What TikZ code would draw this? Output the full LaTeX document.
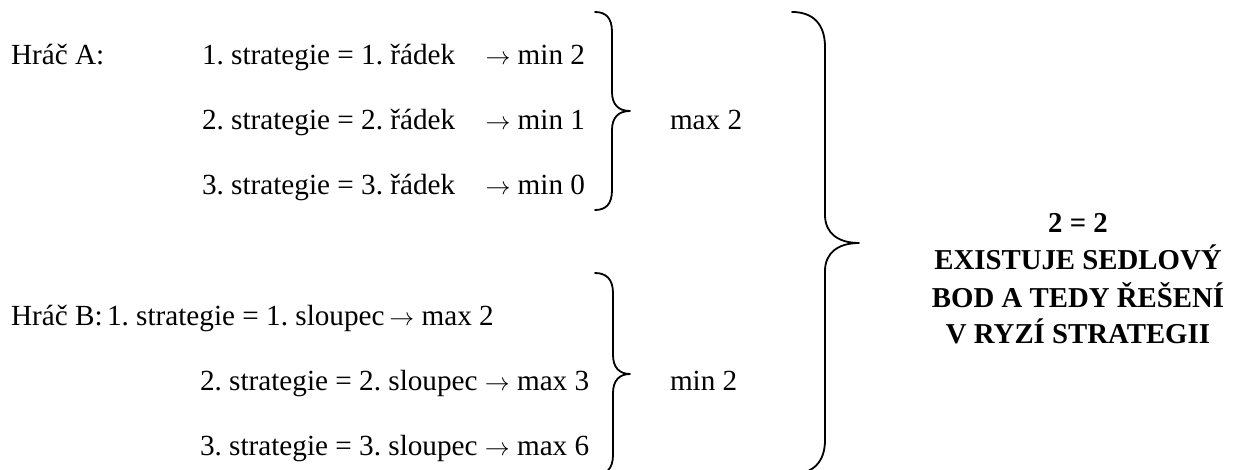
\documentclass[tikz,border=0pt]{standalone}
\usepackage{fontspec}
\setmainfont{Liberation Serif}
\frenchspacing
\newcommand{\arr}{\ensuremath{\rightarrow}}
\begin{document}
\begin{tikzpicture}[x=1pt,y=-1pt,
  every node/.style={inner sep=0pt, outer sep=0pt},
  txt/.style={font=\fontsize{29.2}{34}\selectfont, anchor=base west},
  txte/.style={font=\fontsize{29.2}{34}\selectfont, anchor=base east},
  concl/.style={font=\fontsize{28.8}{34}\selectfont\bfseries, anchor=base},
  brace/.style={line width=1.8pt, line cap=round, line join=round}]
\useasboundingbox (0,0) rectangle (1239,470);
\clip (0,0) rectangle (1239,470);
% Player A
\node[txt] (hA) at (11,65) {Hráč A:};
\node[txt] (a1) at (202,65) {1. strategie = 1. řádek};
\node[txt] (a2) at (202,130) {2. strategie = 2. řádek};
\node[txt] (a3) at (202,195) {3. strategie = 3. řádek};
\node[txte] (m1) at (585,65) {\arr{} min 2};
\node[txte] (m2) at (585,130) {\arr{} min 1};
\node[txte] (m3) at (585,195) {\arr{} min 0};
\node[txt] (maxA) at (670,130) {max 2};
% Player B
\node[txt] (hB) at (11,325) {Hráč B:};
\node[txt] (b1) at (107,325) {1. strategie = 1. sloupec\,\arr{} max 2};
\node[txt] (b2) at (200,390) {2. strategie = 2. sloupec \arr{} max 3};
\node[txt] (b3) at (200,455) {3. strategie = 3. sloupec \arr{} max 6};
\node[txt] (minB) at (670,390) {min 2};
% conclusion
\node[concl] (c1) at (1078,233) {2 = 2};
\node[concl] (c2) at (1078,270) {EXISTUJE SEDLOVÝ};
\node[concl] (c3) at (1078,307) {BOD A TEDY ŘEŠENÍ};
\node[concl] (c4) at (1078,343) {V RYZÍ STRATEGII};
% braces
\draw[brace] (595,12) .. controls (606,12) and (612,18) .. (612,32) -- (612,92)
  .. controls (612,104) and (618,111) .. (630,111)
  .. controls (618,111) and (612,118) .. (612,130) -- (612,190)
  .. controls (612,204) and (606,210) .. (595,210);
\draw[brace] (595,273) .. controls (606,273) and (613,279) .. (613,293) -- (613,355)
  .. controls (613,367) and (619,374) .. (630,374)
  .. controls (619,374) and (613,381) .. (613,393) -- (613,455)
  .. controls (613,469) and (606,475) .. (595,475);
\draw[brace] (792,12) .. controls (813,12) and (825,24) .. (825,47) -- (825,215)
  .. controls (825,233) and (838,243) .. (859,243)
  .. controls (838,243) and (825,253) .. (825,271) -- (825,440)
  .. controls (825,462) and (813,474) .. (792,474);
\end{tikzpicture}
\end{document}
